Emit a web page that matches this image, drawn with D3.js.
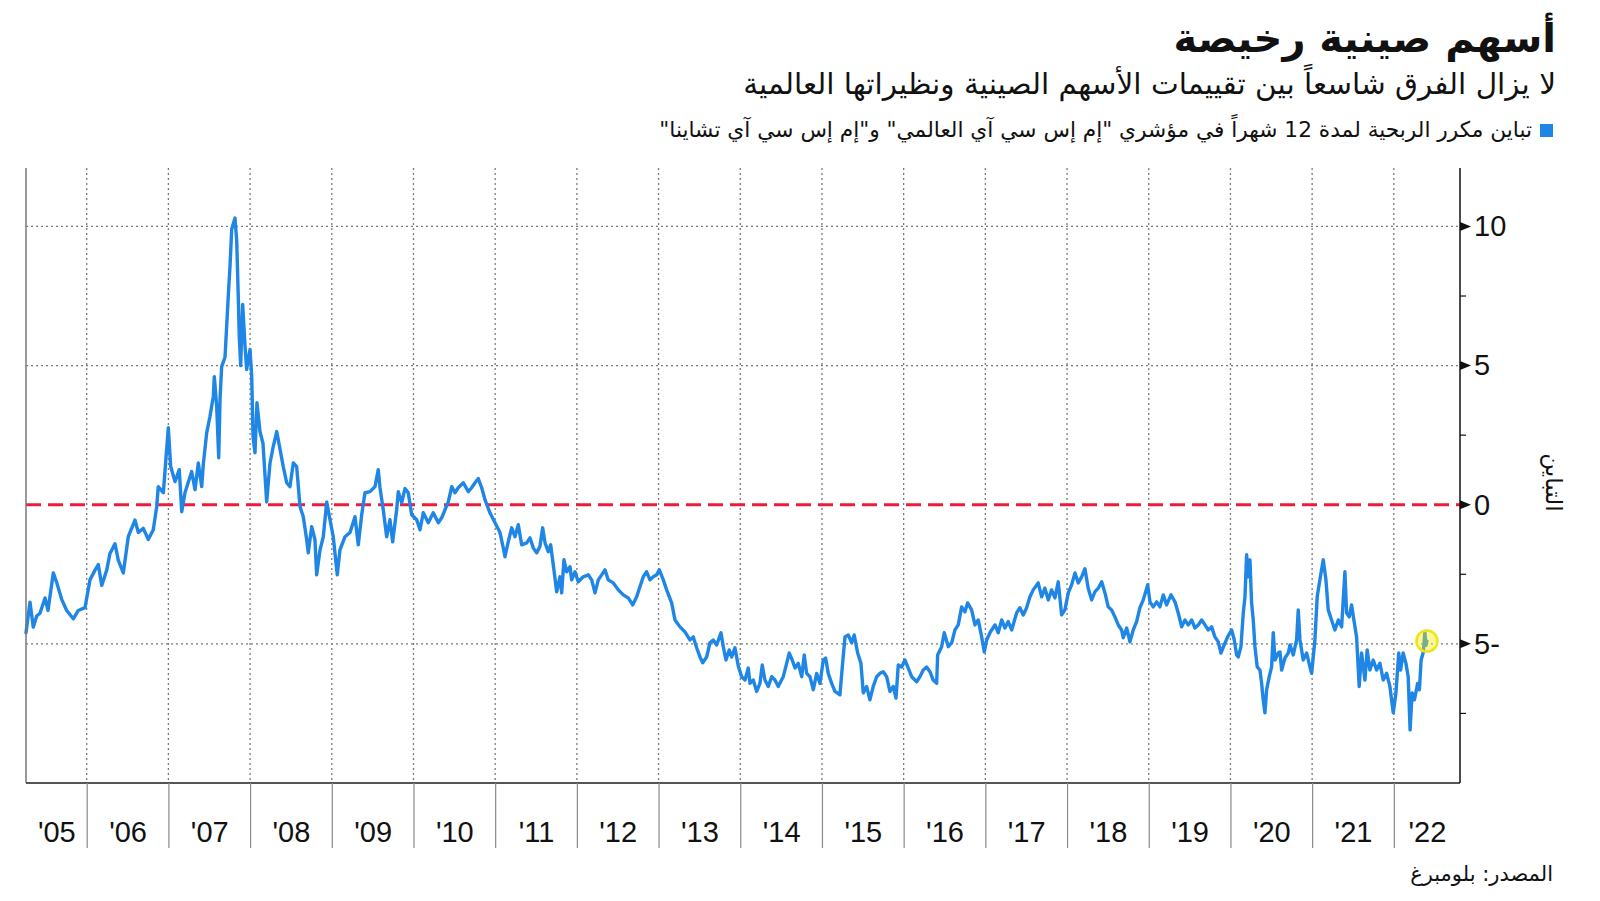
<!DOCTYPE html>
<html><head><meta charset="utf-8">
<script src="https://cdn.jsdelivr.net/npm/d3@7"></script>
<style>
html,body{margin:0;padding:0;background:#fff}
body{width:1600px;height:901px;overflow:hidden;position:relative;font-family:"DejaVu Sans",sans-serif}
.t{position:absolute;right:44px;direction:rtl;white-space:nowrap;color:#111}
svg{position:absolute;left:0;top:0}
</style></head><body>
<script>
// ---- data (decimal year, P/E spread) ----
const years = [
2005.257,2005.306,2005.346,2005.388,2005.428,2005.490,2005.526,2005.591,2005.633,2005.694,2005.755,2005.836,2005.897,2005.979,
2006.040,2006.102,2006.142,2006.184,2006.245,2006.285,2006.346,2006.387,2006.448,2006.509,2006.591,2006.632,2006.693,2006.754,2006.815,2006.857,2006.876,2006.938,2006.999,
2007.028,2007.081,2007.133,2007.163,2007.203,2007.285,2007.326,2007.366,2007.408,2007.427,2007.469,2007.509,2007.550,2007.562,2007.591,2007.616,2007.632,2007.652,2007.693,2007.733,2007.754,2007.775,2007.815,2007.836,2007.856,2007.868,2007.885,2007.909,2007.938,2007.958,2007.999,
2008.020,2008.036,2008.060,2008.084,2008.121,2008.158,2008.203,2008.244,2008.284,2008.326,2008.366,2008.406,2008.448,2008.488,2008.529,2008.570,2008.611,2008.651,2008.693,2008.712,2008.754,2008.794,2008.815,2008.856,2008.896,2008.938,2008.978,
2009.018,2009.067,2009.100,2009.162,2009.223,2009.284,2009.324,2009.366,2009.406,2009.468,2009.529,2009.569,2009.590,2009.630,2009.672,2009.712,2009.745,2009.794,2009.814,2009.856,2009.896,2009.936,2009.978,
2010.039,2010.080,2010.120,2010.181,2010.242,2010.304,2010.345,2010.386,2010.426,2010.468,2010.508,2010.548,2010.610,2010.671,2010.712,2010.753,2010.793,2010.835,2010.875,2010.936,2010.998,
2011.059,2011.099,2011.120,2011.160,2011.202,2011.242,2011.283,2011.324,2011.386,2011.426,2011.466,2011.508,2011.548,2011.581,2011.610,2011.650,2011.679,2011.711,2011.753,2011.793,2011.814,2011.842,2011.875,2011.916,2011.936,2011.977,
2012.017,2012.078,2012.140,2012.181,2012.222,2012.262,2012.304,2012.344,2012.384,2012.446,2012.507,2012.568,2012.629,2012.683,2012.732,2012.772,2012.813,2012.854,2012.895,2012.935,2012.977,
2013.009,2013.058,2013.099,2013.160,2013.201,2013.262,2013.323,2013.384,2013.425,2013.466,2013.507,2013.540,2013.589,2013.629,2013.669,2013.711,2013.764,2013.792,2013.825,2013.865,2013.895,2013.935,2013.976,
2014.017,2014.058,2014.098,2014.119,2014.159,2014.201,2014.241,2014.269,2014.302,2014.343,2014.384,2014.425,2014.465,2014.526,2014.568,2014.600,2014.636,2014.670,2014.710,2014.752,2014.783,2014.813,2014.853,2014.894,2014.935,2014.976,
2015.016,2015.045,2015.077,2015.119,2015.159,2015.220,2015.249,2015.282,2015.322,2015.364,2015.395,2015.437,2015.477,2015.506,2015.547,2015.587,2015.628,2015.670,2015.710,2015.750,2015.792,2015.832,2015.873,2015.906,2015.934,2015.976,
2016.016,2016.056,2016.098,2016.159,2016.199,2016.240,2016.281,2016.322,2016.362,2016.404,2016.416,2016.465,2016.497,2016.546,2016.588,2016.628,2016.668,2016.710,2016.750,2016.783,2016.832,2016.873,2016.913,2016.955,2016.987,
2017.016,2017.057,2017.077,2017.118,2017.158,2017.200,2017.240,2017.280,2017.322,2017.383,2017.423,2017.464,2017.505,2017.546,2017.586,2017.647,2017.689,2017.729,2017.770,2017.811,2017.852,2017.892,2017.934,2017.974,
2018.015,2018.056,2018.097,2018.137,2018.179,2018.219,2018.259,2018.301,2018.341,2018.382,2018.424,2018.464,2018.504,2018.546,2018.586,2018.627,2018.668,2018.688,2018.730,2018.770,2018.810,2018.852,2018.892,2018.933,2018.987,
2019.015,2019.055,2019.097,2019.137,2019.178,2019.219,2019.272,2019.321,2019.361,2019.403,2019.443,2019.483,2019.525,2019.565,2019.606,2019.648,2019.688,2019.728,2019.770,2019.810,2019.851,2019.884,2019.924,2019.966,
2020.015,2020.047,2020.076,2020.096,2020.129,2020.157,2020.178,2020.198,2020.218,2020.239,2020.259,2020.279,2020.300,2020.328,2020.361,2020.382,2020.401,2020.422,2020.443,2020.475,2020.504,2020.524,2020.545,2020.585,2020.606,2020.627,2020.667,2020.708,2020.729,2020.769,2020.810,2020.830,2020.851,2020.891,2020.933,2020.973,2020.994,
2021.034,2021.062,2021.095,2021.136,2021.169,2021.197,2021.238,2021.279,2021.320,2021.361,2021.401,2021.422,2021.454,2021.483,2021.511,2021.544,2021.576,2021.605,2021.646,2021.674,2021.707,2021.748,2021.789,2021.830,2021.870,2021.912,2021.952,2021.993,
2022.026,2022.060,2022.083,2022.114,2022.148,2022.176,2022.199,2022.224,2022.252,2022.292,2022.313,2022.334,2022.362,2022.380,2022.392,2022.405
];
const spread = [
-4.6,-3.5,-4.4,-4.0,-3.9,-3.35,-3.8,-2.45,-2.8,-3.4,-3.8,-4.1,-3.8,-3.7,
-2.7,-2.35,-2.15,-2.9,-2.35,-1.75,-1.4,-2.0,-2.45,-1.15,-0.55,-1.0,-0.85,-1.25,-0.9,-0.07,0.65,0.43,2.77,
1.37,0.83,1.26,-0.25,0.43,1.19,0.54,1.5,0.65,1.44,2.59,3.17,3.9,4.6,3.53,1.69,3.78,4.96,5.3,7.5,8.57,9.9,10.3,9.5,7.4,6.0,5.0,7.2,5.7,4.86,5.58,
4.6,2.45,1.87,3.67,2.63,2.2,0.1,1.5,2.1,2.63,2.0,1.37,0.79,0.65,1.5,1.37,-0.07,-0.43,-1.26,-1.73,-0.79,-1.26,-2.52,-1.62,-1.15,0.1,-0.54,
-1.15,-2.52,-1.62,-1.15,-1.0,-0.43,-1.44,-0.36,0.43,0.47,0.65,1.26,0.61,-0.18,-1.15,-0.54,-1.33,-0.18,0.47,0.07,0.58,0.43,-0.36,
-0.54,-0.9,-0.29,-0.65,-0.29,-0.65,-0.47,-0.18,0.1,0.65,0.43,0.61,0.79,0.47,0.61,0.79,0.94,0.61,0.18,-0.29,-0.65,
-1.0,-1.55,-1.87,-1.33,-0.83,-1.15,-0.72,-1.44,-1.37,-1.19,-1.55,-1.73,-1.5,-0.83,-1.37,-1.69,-1.44,-2.16,-3.13,-2.59,-3.17,-1.98,-2.41,-2.23,-2.7,-2.41,
-2.77,-2.59,-2.52,-2.7,-3.17,-2.7,-2.52,-2.34,-2.7,-2.81,-3.06,-3.24,-3.35,-3.6,-3.31,-2.95,-2.59,-2.41,-2.7,-2.59,-2.52,
-2.34,-2.7,-3.06,-3.53,-4.14,-4.39,-4.57,-4.86,-4.75,-5.14,-5.47,-5.68,-5.47,-4.96,-4.86,-5.04,-4.6,-5.1,-5.58,-5.22,-5.47,-5.14,-5.8,
-6.18,-6.3,-5.87,-6.42,-6.3,-6.71,-6.42,-5.76,-6.3,-6.53,-6.18,-6.3,-6.53,-6.18,-5.7,-5.33,-5.58,-5.87,-5.7,-6.18,-5.4,-6.06,-6.18,-6.65,-6.06,-6.42,
-5.58,-5.51,-6.06,-6.42,-6.71,-6.83,-5.83,-4.75,-4.68,-4.96,-4.68,-5.33,-5.7,-6.76,-6.53,-7.01,-6.53,-6.18,-6.06,-6.0,-6.18,-6.71,-6.53,-6.95,-5.76,-5.83,
-5.58,-5.87,-6.18,-6.36,-6.18,-5.94,-5.83,-6.0,-6.3,-6.42,-5.4,-5.1,-4.6,-5.1,-4.96,-4.5,-4.32,-3.67,-3.85,-3.53,-3.78,-4.32,-4.14,-4.75,-5.29,
-4.86,-4.6,-4.5,-4.32,-4.6,-4.14,-4.43,-4.2,-4.5,-3.89,-3.7,-3.96,-3.7,-3.31,-3.06,-2.81,-3.31,-3.0,-3.42,-3.06,-3.35,-2.77,-3.96,-3.78,
-3.17,-2.88,-2.45,-2.81,-2.59,-2.3,-3.0,-3.42,-3.13,-3.0,-2.77,-3.17,-3.67,-3.78,-4.03,-4.32,-4.5,-4.78,-4.43,-4.93,-4.5,-4.2,-3.7,-3.42,-2.88,
-3.49,-3.67,-3.49,-3.67,-3.24,-3.6,-3.24,-3.49,-3.89,-4.39,-4.14,-4.32,-4.14,-4.43,-4.32,-4.14,-4.32,-4.5,-4.39,-4.75,-4.93,-5.33,-5.04,-4.75,
-4.5,-4.86,-5.4,-5.47,-5.1,-3.89,-3.31,-1.8,-2.59,-1.98,-3.53,-4.14,-5.1,-5.83,-5.94,-6.42,-7.01,-7.48,-6.65,-6.18,-5.83,-4.6,-5.58,-5.33,-5.29,-5.94,-5.51,-5.33,-5.04,-5.4,-4.86,-3.78,-4.86,-5.58,-5.33,-5.83,-6.06,
-4.86,-3.31,-2.7,-1.98,-2.7,-3.78,-4.14,-4.5,-4.14,-4.39,-2.41,-3.89,-4.03,-3.6,-4.14,-4.75,-6.53,-5.33,-6.3,-5.22,-5.94,-5.58,-5.94,-5.7,-6.3,-6.06,-6.53,-7.48,
-6.76,-5.33,-5.94,-5.33,-5.7,-6.18,-8.09,-6.76,-7.01,-6.42,-6.65,-5.58,-5.29,-4.55,-5.05,-4.9
];
const yearTicks = d3.range(2006, 2023);
const yearLabels = ["'05","'06","'07","'08","'09","'10","'11","'12","'13","'14","'15","'16","'17","'18","'19","'20","'21","'22"];
const yTicks = [-5, 0, 5, 10];
const yTickLabels = ["5-", "0", "5", "10"];
const yMinorTicks = [-7.5, -2.5, 2.5, 7.5];
const titleText = "أسهم صينية رخيصة";
const subtitleText = "لا يزال الفرق شاسعاً بين تقييمات الأسهم الصينية ونظيراتها العالمية";
const legendText = "تباين مكرر الربحية لمدة 12 شهراً في مؤشري \"إم إس سي آي العالمي\" و\"إم إس سي آي تشاينا\"";
const axisTitle = "التباين";
const sourceText = "المصدر: بلومبرغ";

// ---- layout ----
const W = 1600, H = 901;
const L = 26, R = 1460, T = 168, B = 783;
const blue = "#1f86e6";
const x = d3.scaleLinear().domain([2005.257, 2022.81]).range([L, R]);
const y = d3.scaleLinear().domain([-10, 12.1]).range([B, T]);

const body = d3.select("body");
body.append("div").attr("class","t").text(titleText)
  .style("top","13px").style("font-size","40px").style("font-weight","bold").style("line-height","50px");
body.append("div").attr("class","t").text(subtitleText)
  .style("top","64px").style("font-size","29.5px").style("line-height","40px");
const leg = body.append("div").attr("class","t").style("top","115px").style("font-size","21.7px").style("line-height","28px").style("right","47px");
leg.append("span").style("display","inline-block").style("width","13px").style("height","13px")
  .style("background",blue).style("margin-left","8px").style("vertical-align","middle");
leg.append("span").text(legendText).style("vertical-align","middle");
body.append("div").attr("class","t").text(sourceText)
  .style("top","859px").style("font-size","21px").style("line-height","30px").style("right","47px");

const svg = body.append("svg").attr("width", W).attr("height", H);

// vertical grid (dotted)
svg.append("g").selectAll("line").data(yearTicks).join("line")
  .attr("x1", d => x(d)).attr("x2", d => x(d)).attr("y1", T).attr("y2", B)
  .attr("stroke", "#7a7a7a").attr("stroke-width", 1.3).attr("stroke-dasharray", "2,3");
// horizontal grid
svg.append("g").selectAll("line").data(yTicks.filter(d => d !== 0)).join("line")
  .attr("x1", L).attr("x2", R).attr("y1", d => y(d)).attr("y2", d => y(d))
  .attr("stroke", "#7a7a7a").attr("stroke-width", 1.3).attr("stroke-dasharray", "2,3");
// zero line
svg.append("line").attr("x1", L).attr("x2", R).attr("y1", y(0)).attr("y2", y(0))
  .attr("stroke", "#ee1c3a").attr("stroke-width", 3).attr("stroke-dasharray", "15,7");

// data line
const pts = years.map((d, i) => [d, spread[i]]);
svg.append("path").datum(pts)
  .attr("fill", "none").attr("stroke", blue).attr("stroke-width", 3.4)
  .attr("stroke-linejoin", "round").attr("stroke-linecap", "round")
  .attr("d", d3.line().x(d => x(d[0])).y(d => y(d[1])));

// highlight circle at last point
const last = pts[pts.length - 1];
svg.append("circle").attr("cx", x(last[0])).attr("cy", y(last[1])).attr("r", 10.5)
  .attr("fill", "rgba(255,238,0,0.4)").attr("stroke", "#efe31c").attr("stroke-width", 2.5);

// frame lines
svg.append("line").attr("x1", L).attr("x2", L).attr("y1", T).attr("y2", B).attr("stroke", "#777").attr("stroke-width", 1.5);
svg.append("line").attr("x1", L).attr("x2", R).attr("y1", B).attr("y2", B).attr("stroke", "#555").attr("stroke-width", 2);

// bottom axis: year separators below the axis
svg.append("g").attr("transform", `translate(0,${B})`)
  .call(d3.axisBottom(x).tickValues(yearTicks).tickSize(65).tickFormat(""))
  .call(g => g.select(".domain").remove())
  .call(g => g.selectAll(".tick line").attr("stroke", "#8a8a8a").attr("stroke-width", 1.2));
// bottom labels centred in each year span
const bounds = [x.domain()[0], ...yearTicks, x.domain()[1]];
const mids = yearLabels.map((d, i) => (bounds[i] + bounds[i + 1]) / 2);
svg.append("g").attr("transform", `translate(0,${B})`)
  .call(d3.axisBottom(x).tickValues(mids).tickSize(0).tickPadding(38).tickFormat((d, i) => yearLabels[i]))
  .call(g => g.select(".domain").remove())
  .call(g => g.selectAll("text").attr("font-family", "'Liberation Sans Narrow','Liberation Sans',sans-serif")
      .attr("font-size", 29).attr("fill", "#111"));

// right axis
const ra = svg.append("g").attr("transform", `translate(${R},0)`);
ra.call(d3.axisRight(y).tickValues(yTicks).tickSize(0).tickPadding(14).tickFormat((d, i) => yTickLabels[i]))
  .call(g => g.select(".domain").remove())
  .call(g => g.selectAll("text").attr("font-family", "'Liberation Sans Narrow','Liberation Sans',sans-serif")
      .attr("font-size", 29).attr("fill", "#111"));
ra.append("line").attr("x1", 0).attr("x2", 0).attr("y1", T).attr("y2", B).attr("stroke", "#111").attr("stroke-width", 1.5);
ra.selectAll("path.tri").data(yTicks).join("path").attr("class", "tri")
  .attr("d", d => `M0,${y(d) - 4.5}L11,${y(d)}L0,${y(d) + 4.5}Z`).attr("fill", "#111");
ra.selectAll("line.minor").data(yMinorTicks).join("line").attr("class", "minor")
  .attr("x1", 0).attr("x2", 6).attr("y1", d => y(d)).attr("y2", d => y(d)).attr("stroke", "#111").attr("stroke-width", 1.2);

// axis title
svg.append("text").attr("transform", `translate(1546,${y(0.8)}) rotate(90)`)
  .attr("text-anchor", "middle").attr("font-family", "'DejaVu Sans',sans-serif")
  .attr("font-size", 23).attr("fill", "#111").text(axisTitle);
</script>
</body></html>
